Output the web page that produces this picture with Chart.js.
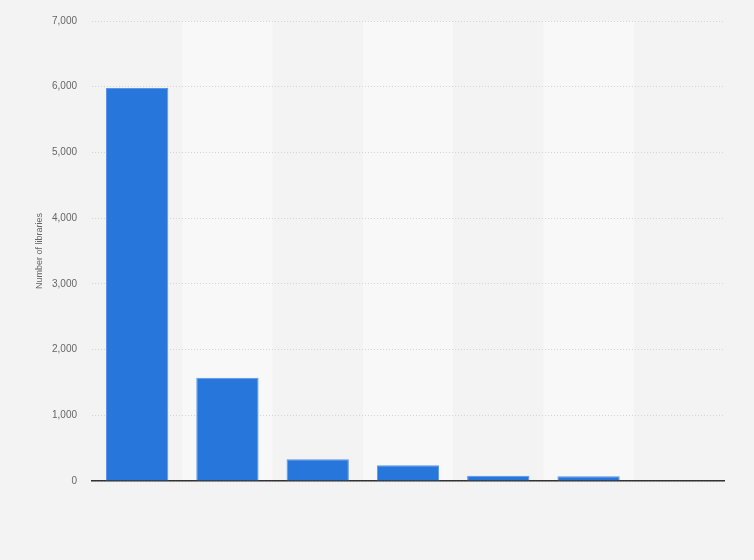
<!DOCTYPE html>
<html>
<head>
<meta charset="utf-8">
<script src="https://cdn.jsdelivr.net/npm/chart.js@4"></script>
<style>
  html, body { margin: 0; padding: 0; background: #f3f3f3; }
  #wrap { width: 754px; height: 560px; }
</style>
</head>
<body>
<div id="wrap"><canvas id="c" width="754" height="560"></canvas></div>
<script>
const categories = ["Category 1", "Category 2", "Category 3", "Category 4", "Category 5", "Category 6", "Category 7"];
const libraries = [5980, 1570, 330, 238, 80, 71, 0];
const yTicks = [0, 1000, 2000, 3000, 4000, 5000, 6000, 7000];

const bandPlugin = {
  id: 'bands',
  beforeDraw(chart) {
    const { ctx, chartArea, scales } = chart;
    ctx.save();
    ctx.fillStyle = '#f3f3f3';
    ctx.fillRect(0, 0, chart.width, chart.height);
    const x = scales.x;
    const step = (chartArea.right - chartArea.left) / categories.length;
    ctx.fillStyle = '#f8f8f8';
    categories.forEach((c, i) => {
      if (i % 2 === 1) {
        const cx = x.getPixelForValue(i);
        ctx.fillRect(cx - step / 2, chartArea.top, step, chartArea.bottom - chartArea.top);
      }
    });
    ctx.restore();
  }
};

new Chart(document.getElementById('c'), {
  type: 'bar',
  data: {
    labels: categories,
    datasets: [{
      data: libraries,
      backgroundColor: '#2776db',
      borderColor: '#5b96e4',
      borderWidth: 1,
      barPercentage: 0.69,
      categoryPercentage: 1.0
    }]
  },
  options: {
    responsive: false,
    animation: false,
    devicePixelRatio: 1,
    layout: { padding: { left: 0, right: 30, top: 20, bottom: 79 } },
    plugins: { legend: { display: false }, tooltip: { enabled: false } },
    scales: {
      x: {
        grid: { display: false, drawTicks: false },
        ticks: { display: false },
        border: { display: true, color: '#333333', width: 1.5 },
        afterFit(scale) { scale.height = 0; }
      },
      y: {
        min: 0,
        max: 7000,
        afterBuildTicks(scale) { scale.ticks = yTicks.map(v => ({ value: v })); },
        afterFit(scale) { scale.width = 92; },
        grid: { color: '#d4d4d4', drawTicks: false, lineWidth: 1 },
        border: { display: false, dash: [1, 2] },
        ticks: {
          padding: 15,
          color: '#666666',
          font: { family: 'Liberation Sans, Arial, sans-serif', size: 10 },
          callback: v => v.toLocaleString('en-US')
        },
        title: {
          display: true,
          text: 'Number of libraries',
          color: '#666666',
          font: { family: 'Liberation Sans, Arial, sans-serif', size: 9 },
          padding: { top: 34.5, bottom: 0 }
        }
      }
    }
  },
  plugins: [bandPlugin]
});
</script>
</body>
</html>
